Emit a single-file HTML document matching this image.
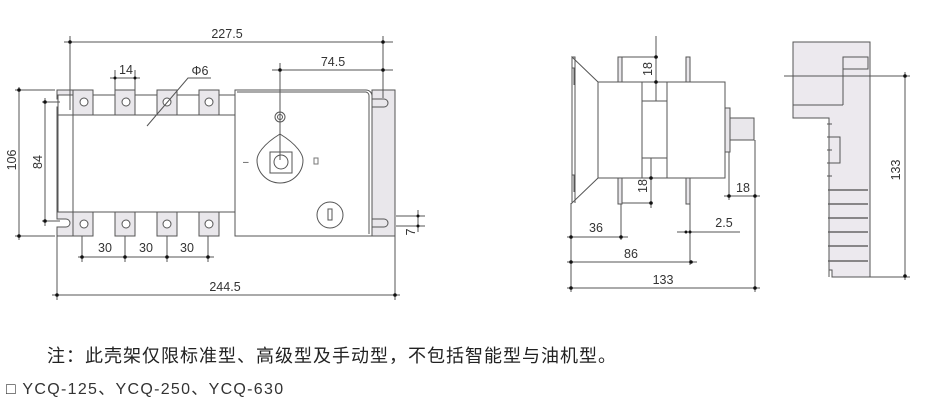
<!DOCTYPE html>
<html><head><meta charset="utf-8"><style>
body{margin:0;background:#fff;width:928px;height:407px;overflow:hidden;position:relative;font-family:"Liberation Sans","Noto Sans CJK SC",sans-serif}
svg{position:absolute;left:0;top:0}
.n{position:absolute;color:#222;white-space:nowrap}
</style></head><body>
<svg width="928" height="407" viewBox="0 0 928 407" font-family="Liberation Sans, sans-serif" font-size="12" fill="#333">
<g stroke="#555" stroke-width="1" fill="none">
<path d="M57,90 H73 V236 H57 V227 H66 A4,4 0 0 0 66,219 H57 V107 H66 A4,4 0 0 0 66,99 H57 Z" fill="#e9e7eb"/>
<rect x="58" y="95" width="177" height="117" fill="#fff"/>
<line x1="73" y1="95" x2="73" y2="236"/>
<g fill="#e9e7eb">
<rect x="73" y="90" width="20" height="25"/><rect x="115" y="90" width="20" height="25"/><rect x="157" y="90" width="20" height="25"/><rect x="199" y="90" width="20" height="25"/>
<rect x="73" y="212" width="20" height="24"/><rect x="115" y="212" width="20" height="24"/><rect x="157" y="212" width="20" height="24"/><rect x="199" y="212" width="20" height="24"/>
</g>
<g fill="#fff">
<circle cx="84" cy="102" r="4"/><circle cx="126" cy="102" r="4"/><circle cx="167" cy="102" r="4"/><circle cx="209" cy="102" r="4"/>
<circle cx="84" cy="224" r="4"/><circle cx="126" cy="224" r="4"/><circle cx="167" cy="224" r="4"/><circle cx="209" cy="224" r="4"/>
</g>
<line x1="58" y1="115" x2="235" y2="115"/>
<path d="M372,90 H395 V236 H372 Z" fill="#e9e7eb"/>
<path d="M372,99 H384 A4,4 0 0 1 384,107 H372 M372,219 H384 A4,4 0 0 1 384,227 H372"/>
<path d="M235,90 H366 A6,6 0 0 1 372,96 V236 H235 Z" fill="#fff"/>
<path d="M237,92 H366 A4,4 0 0 1 369,96 V234"/>
<circle cx="280" cy="117" r="5"/><circle cx="280" cy="117" r="2.5"/>
<path d="M280,134 C262,145 257,155 257,160 A23,23 0 1 0 303,160 C303,155 298,145 280,134 Z"/>
<rect x="270" y="152" width="22" height="21"/><circle cx="281" cy="162" r="7"/>
<circle cx="330" cy="215" r="13"/><rect x="328" y="209" width="4" height="11"/>
<path d="M70,36 V110 M383,36 V98 M64,42 H393"/>
<path d="M280,63 V160 M272,70 H393"/>
<path d="M115,70 V90 M135,70 V90 M110,78 H140"/>
<path d="M147,126 L188,78 H211"/>
<path d="M15,90 H55 M15,236 H55 M19,87 V240 M42,102 H60 M42,221 H60 M45,98 V226"/>
<path d="M82,236 V262 M125,236 V262 M167,236 V262 M208,236 V262 M78,257 H214"/>
<path d="M57,236 V300 M395,236 V300 M52,295 H400"/>
<path d="M396,216 H425 M396,226 H425 M418,210 V232"/>
<path d="M572,57 L598,82 V178 L572,203 Z" fill="#fff"/>
<path d="M572,57 H575 V203 M572,68 H574 V85 M572,175 H574 V192"/>
<rect x="598" y="82" width="127" height="96" fill="#fff"/>
<rect x="642" y="82" width="25" height="96"/><rect x="642" y="101" width="25" height="57"/>
<rect x="618" y="57" width="4" height="25" fill="#e9e7eb"/><rect x="686" y="57" width="4" height="25" fill="#e9e7eb"/>
<rect x="618" y="178" width="4" height="26" fill="#e9e7eb"/><rect x="686" y="178" width="4" height="26" fill="#e9e7eb"/>
<rect x="725" y="108" width="5" height="44" fill="#e9e7eb"/><rect x="730" y="118" width="24" height="22" fill="#e9e7eb"/>
<path d="M656,36 V101 M622,57 H658 M651,158 V208 M651,203 H622"/>
<path d="M729,152 V200 M755,140 V292 M724,196 H760"/>
<path d="M571,203 V292 M621,204 V240 M690,204 V265 M567,237 H628 M677,232 H740 M567,262 H697 M567,288 H760"/>
<path d="M793,42 H870 V277 H832 V270 H829 V118 H793 Z" fill="#ece9ee"/>
<path d="M843,105 V57 H868 V69 H843 M793,105 H843"/>
<path d="M829,118 V277 M827,124 H832 M827,137 H832 M827,150 H832 M827,163 H832 M827,176 H832 M832,137 H840 V163 H832"/>
<g stroke="#666" stroke-width="1.5"><path d="M828,190 H868 M828,204 H868 M828,218 H868 M828,232 H868 M828,246 H868 M828,261 H868"/></g>
<path d="M784,76 H910 M870,277 H910 M905,72 V280"/>
</g>
<g fill="#111">
<circle cx="70" cy="42" r="1.8"/><circle cx="383" cy="42" r="1.8"/><circle cx="280" cy="70" r="1.8"/><circle cx="383" cy="70" r="1.8"/>
<circle cx="115" cy="78" r="1.5"/><circle cx="135" cy="78" r="1.5"/>
<circle cx="19" cy="90" r="1.8"/><circle cx="19" cy="236" r="1.8"/><circle cx="45" cy="102" r="1.8"/><circle cx="45" cy="221" r="1.8"/>
<circle cx="82" cy="257" r="1.8"/><circle cx="125" cy="257" r="1.8"/><circle cx="167" cy="257" r="1.8"/><circle cx="208" cy="257" r="1.8"/>
<circle cx="57" cy="295" r="1.8"/><circle cx="395" cy="295" r="1.8"/><circle cx="418" cy="216" r="1.5"/><circle cx="418" cy="226" r="1.5"/>
<circle cx="656" cy="57" r="1.8"/><circle cx="656" cy="82" r="1.8"/><circle cx="651" cy="178" r="1.8"/><circle cx="651" cy="203" r="1.8"/>
<circle cx="729" cy="196" r="1.8"/><circle cx="755" cy="196" r="1.8"/>
<circle cx="571" cy="237" r="1.8"/><circle cx="621" cy="237" r="1.8"/><circle cx="686" cy="232" r="1.5"/><circle cx="690" cy="232" r="1.5"/>
<circle cx="571" cy="262" r="1.8"/><circle cx="691" cy="262" r="1.8"/><circle cx="571" cy="288" r="1.8"/><circle cx="755" cy="288" r="1.8"/>
<circle cx="905" cy="76" r="1.8"/><circle cx="905" cy="276" r="1.8"/>
</g>
<g fill="#333" font-size="12.5">
<text x="227" y="38" text-anchor="middle">227.5</text>
<text x="333" y="66" text-anchor="middle">74.5</text>
<text x="126" y="74" text-anchor="middle">14</text>
<text x="200" y="75" text-anchor="middle">Φ6</text>
<text x="243" y="165" font-size="10">–</text>
<text x="105" y="252" text-anchor="middle">30</text>
<text x="146" y="252" text-anchor="middle">30</text>
<text x="187" y="252" text-anchor="middle">30</text>
<text x="225" y="291" text-anchor="middle">244.5</text>
<text transform="translate(16,160) rotate(-90)" text-anchor="middle">106</text>
<text transform="translate(42,162) rotate(-90)" text-anchor="middle">84</text>
<text transform="translate(415,232) rotate(-90)" text-anchor="middle">7</text>
<text transform="translate(652,69) rotate(-90)" text-anchor="middle">18</text>
<text transform="translate(647,186) rotate(-90)" text-anchor="middle">18</text>
<text x="743" y="192" text-anchor="middle">18</text>
<text x="596" y="232" text-anchor="middle">36</text>
<text x="724" y="227" text-anchor="middle">2.5</text>
<text x="631" y="258" text-anchor="middle">86</text>
<text x="663" y="284" text-anchor="middle">133</text>
<text transform="translate(900,170) rotate(-90)" text-anchor="middle">133</text>
</g>
<rect x="314" y="158" width="4" height="6" fill="none" stroke="#777"/>
</svg>
<div class="n" style="left:47px;top:342px;font-size:18px;letter-spacing:1px;">注：此壳架仅限标准型、高级型及手动型，不包括智能型与油机型。</div>
<div class="n" style="left:6px;top:375px;font-size:16px;letter-spacing:1.3px;color:#333">□ YCQ-125、YCQ-250、YCQ-630</div>
</body></html>
